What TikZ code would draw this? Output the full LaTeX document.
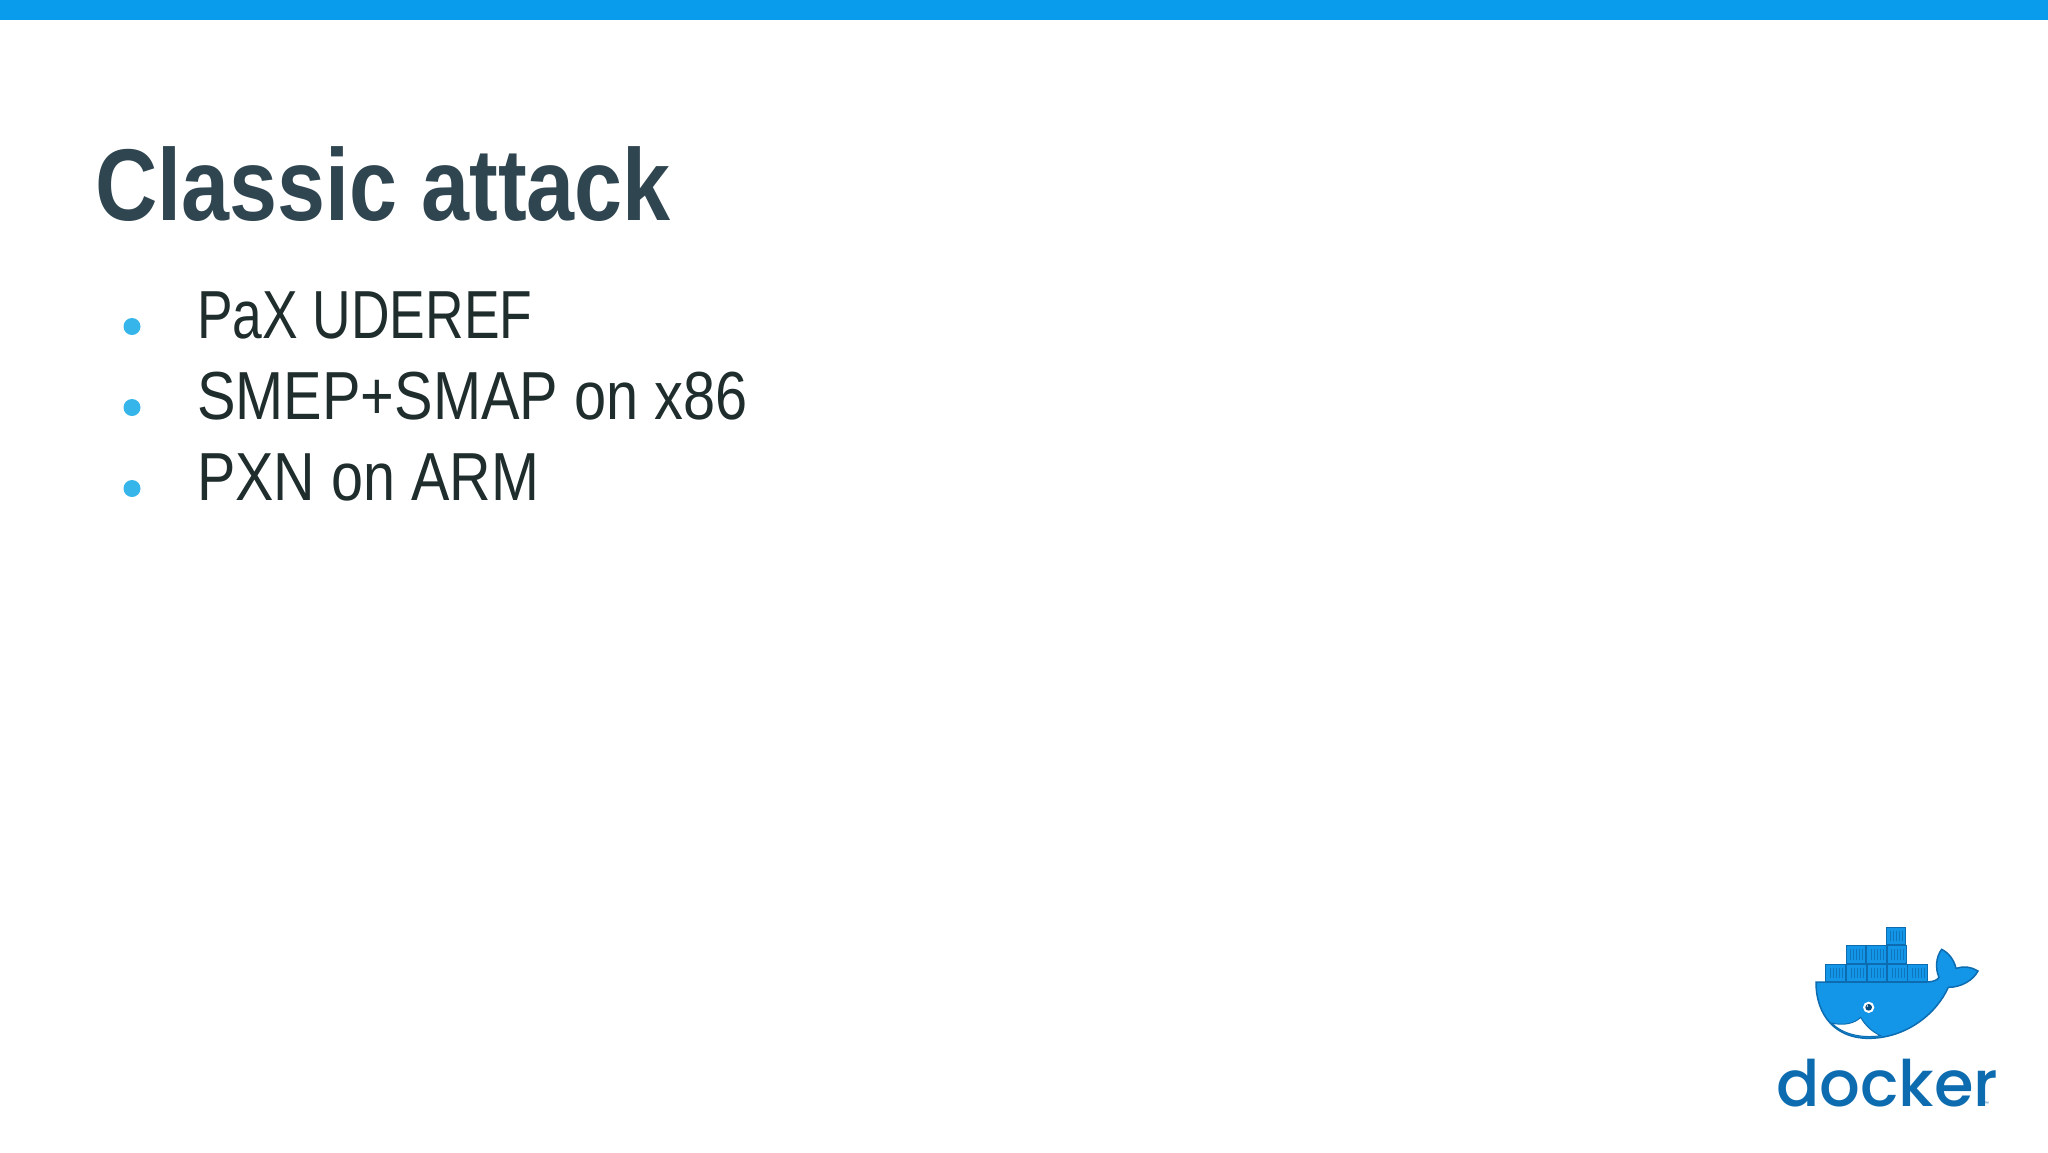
\documentclass[tikz,border=0pt]{standalone}
\usepackage{fontspec}
\setmainfont{Liberation Sans}
\newfontfamily\titlefont[FakeStretch=0.846]{Liberation Sans Bold}
\newfontfamily\bodyfonta[FakeStretch=0.785]{Liberation Sans}
\newfontfamily\bodyfontb[FakeStretch=0.849]{Liberation Sans}
\newfontfamily\bodyfontc[FakeStretch=0.846]{Liberation Sans}
\newfontfamily\dockfont{Poppins Medium}
\definecolor{barblue}{HTML}{0A9CEC}
\definecolor{titlecol}{HTML}{2F4550}
\definecolor{bodycol}{HTML}{1F2D2D}
\definecolor{bulletcol}{HTML}{35B5EA}
\definecolor{whale}{HTML}{1496E8}
\definecolor{whaleline}{HTML}{0D6CB0}
\tikzset{
  titletext/.style={anchor=base west,inner sep=0pt,text=titlecol,font=\titlefont\fontsize{102}{110}\selectfont},
  itemtext/.style={anchor=base west,inner sep=0pt,text=bodycol},
  bulletdot/.style={circle,fill=bulletcol,draw=none,minimum size=17pt,inner sep=0pt},
  crate/.style={fill=whale,draw=whaleline,line width=1pt},
  slat/.style={draw=whaleline!75!whale,line width=0.7pt},
}
\newcommand{\cratebox}[2]{%
  \path[crate] (#1,#2) rectangle ++(58,53);
  \foreach \k in {13,22,31,40,49}{\draw[slat] (#1+\k,#2+11) -- (#1+\k,#2+43);}
}
\begin{document}
\begin{tikzpicture}[x=1pt,y=-1pt]
\useasboundingbox[fill=white] (0,0) rectangle (2048,1152);
\fill[barblue] (0,0) rectangle (2048,20);
\node[titletext] (title) at (95,220) {Classic attack};
\node[bulletdot] (b1) at (132,326.5) {};
\node[bulletdot] (b2) at (132,407.5) {};
\node[bulletdot] (b3) at (132,488.5) {};
\node[itemtext,font=\bodyfonta\fontsize{68}{80}\selectfont] (i1) at (197,338) {PaX UDEREF};
\node[itemtext,font=\bodyfontb\fontsize{68}{80}\selectfont] (i2) at (197,419) {SMEP+SMAP on x86};
\node[itemtext,font=\bodyfontc\fontsize{68}{80}\selectfont] (i3) at (197,500) {PXN on ARM};
\begin{scope}[shift={(1740,900)},x=0.3333pt,y=-0.3333pt]
  \foreach \x in {257,320,382,443,503}{\cratebox{\x}{192}}
  \foreach \x in {318,380,441}{\cratebox{\x}{137}}
  \cratebox{438}{81}
  \path[fill=whale,draw=whaleline,line width=1.5pt]
    (228,246) -- (560,246)
    .. controls (580,246) and (592,240) .. (597,232)
    .. controls (585,205) and (588,170) .. (605,148)
    .. controls (625,158) and (642,178) .. (648,205)
    .. controls (670,198) and (695,200) .. (714,213)
    .. controls (700,240) and (665,262) .. (625,262)
    .. controls (590,340) and (500,415) .. (385,415)
    .. controls (290,415) and (228,350) .. (228,246) -- cycle;
  \path[fill=white,draw=whaleline,line width=1pt]
    (275,369) .. controls (310,378) and (345,370) .. (362,352)
    .. controls (375,375) and (395,395) .. (422,407)
    .. controls (370,415) and (310,405) .. (275,369) -- cycle;
  \path[fill=white] (386,322) circle (17);
  \path[fill=whaleline!70!black] (386,322) circle (10);
  \path[fill=white] (382,318) circle (2.5);
\end{scope}
\node[anchor=base west,inner sep=0pt,text=whaleline,font=\dockfont\fontsize{64}{70}\selectfont] (brand) at (1776,1106) {docker};
\node[anchor=base west,inner sep=0pt,text=whaleline,font=\fontsize{5}{6}\selectfont] (tm) at (1984,1105) {™};
\end{tikzpicture}
\end{document}
